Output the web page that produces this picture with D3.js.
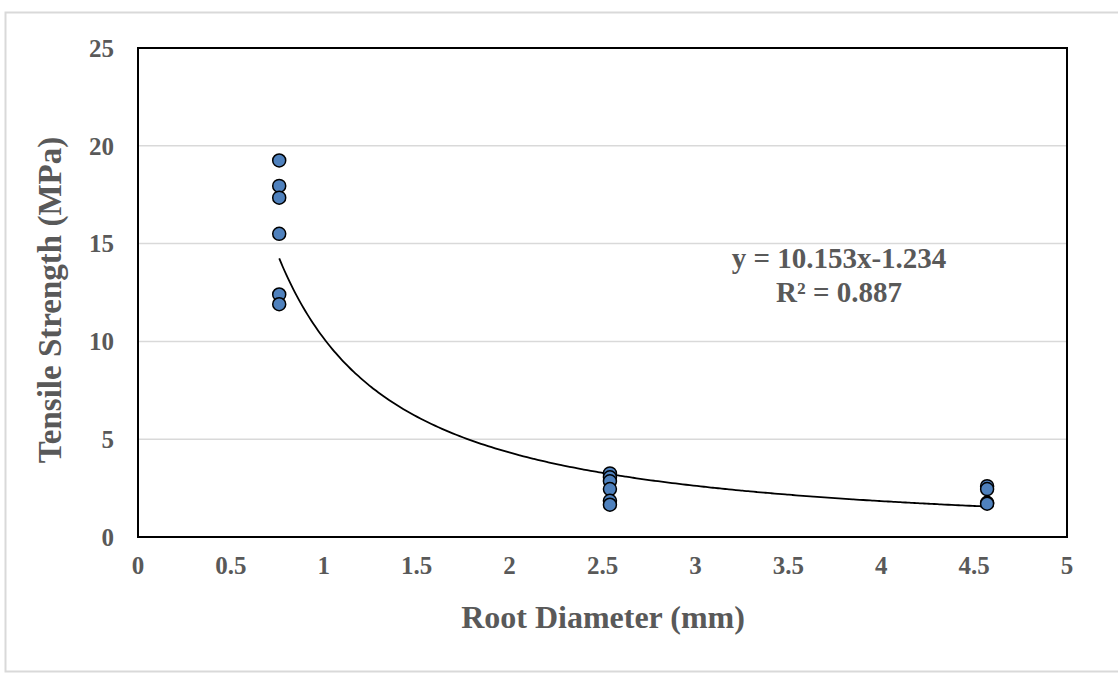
<!DOCTYPE html>
<html>
<head>
  <meta charset="utf-8">
  <title>Tensile Strength vs Root Diameter</title>
  <script src="https://d3js.org/d3.v7.min.js"></script>
  <style>
    body { margin: 0; background: #fff; }
    text { font-family: "Liberation Serif", "Times New Roman", serif; font-weight: bold; fill: #595959; }
  </style>
</head>
<body>
<svg id="chart" width="1118" height="677"></svg>
<script>
  // data
  var diameters = [0.76, 0.76, 0.76, 0.76, 0.76, 0.76,
                   2.54, 2.54, 2.54, 2.54, 2.54, 2.54,
                   4.57, 4.57, 4.57, 4.57];
  var strengths = [19.25, 17.95, 17.35, 15.5, 12.4, 11.9,
                   3.25, 3.05, 2.85, 2.45, 1.85, 1.65,
                   2.6, 2.45, 1.75, 1.7];
  var xTicks = [0, 0.5, 1, 1.5, 2, 2.5, 3, 3.5, 4, 4.5, 5];
  var yTicks = [0, 5, 10, 15, 20, 25];
  // power trendline as printed on the chart
  var coefA = 10.153, coefB = -1.234;
  var trendRange = [0.76, 4.57];
  var eqLabel = "y = 10.153x-1.234";
  var r2Label = "R\u00b2 = 0.887";

  var svg = d3.select("#chart");
  var plotL = 138, plotR = 1067, plotT = 48, plotB = 537;

  var x = d3.scaleLinear().domain([0, 5]).range([plotL, plotR]);
  var y = d3.scaleLinear().domain([0, 25]).range([plotB, plotT]);

  // outer frame
  svg.append("rect")
    .attr("x", 5.5).attr("y", 12.5).attr("width", 1118).attr("height", 659)
    .attr("fill", "none").attr("stroke", "#d9d9d9").attr("stroke-width", 2);

  // gridlines
  svg.selectAll(".grid")
    .data(yTicks.filter(function(d) { return d > 0 && d < 25; }))
    .enter().append("line")
    .attr("x1", plotL).attr("x2", plotR)
    .attr("y1", function(d) { return y(d); })
    .attr("y2", function(d) { return y(d); })
    .attr("stroke", "#d9d9d9").attr("stroke-width", 1.5);

  // plot border
  svg.append("rect")
    .attr("x", plotL).attr("y", plotT)
    .attr("width", plotR - plotL).attr("height", plotB - plotT)
    .attr("fill", "none").attr("stroke", "#000").attr("stroke-width", 2);

  // tick labels
  svg.selectAll(".ylab")
    .data(yTicks)
    .enter().append("text")
    .attr("x", 114)
    .attr("y", function(d) { return y(d); })
    .attr("dy", "0.35em")
    .attr("text-anchor", "end")
    .style("font-size", "25px")
    .text(function(d) { return d; });

  svg.selectAll(".xlab")
    .data(xTicks)
    .enter().append("text")
    .attr("x", function(d) { return x(d); })
    .attr("y", 574)
    .attr("text-anchor", "middle")
    .style("font-size", "25px")
    .text(function(d) { return d; });

  // trendline
  var trendPts = d3.range(0, 201).map(function(i) {
    var xv = trendRange[0] + (trendRange[1] - trendRange[0]) * i / 200;
    return [xv, coefA * Math.pow(xv, coefB)];
  });
  svg.append("path")
    .datum(trendPts)
    .attr("fill", "none")
    .attr("stroke", "#000")
    .attr("stroke-width", 1.8)
    .attr("d", d3.line()
      .x(function(d) { return x(d[0]); })
      .y(function(d) { return y(d[1]); })
      .curve(d3.curveMonotoneX));

  // points
  svg.selectAll(".pt")
    .data(d3.range(diameters.length))
    .enter().append("circle")
    .attr("cx", function(i) { return x(diameters[i]); })
    .attr("cy", function(i) { return y(strengths[i]); })
    .attr("r", 6.5)
    .attr("fill", "#4f81bd")
    .attr("stroke", "#000")
    .attr("stroke-width", 1.5);

  // equation label
  svg.append("text")
    .attr("x", 839).attr("y", 268)
    .attr("text-anchor", "middle")
    .style("font-size", "29px")
    .text(eqLabel);
  svg.append("text")
    .attr("x", 839).attr("y", 302)
    .attr("text-anchor", "middle")
    .style("font-size", "29px")
    .text(r2Label);

  // axis titles
  svg.append("text")
    .attr("x", 603).attr("y", 628)
    .attr("text-anchor", "middle")
    .style("font-size", "32px")
    .text("Root Diameter (mm)");

  svg.append("text")
    .attr("transform", "translate(61,300) rotate(-90)")
    .attr("text-anchor", "middle")
    .style("font-size", "33px")
    .text("Tensile Strength (MPa)");
</script>
</body>
</html>
